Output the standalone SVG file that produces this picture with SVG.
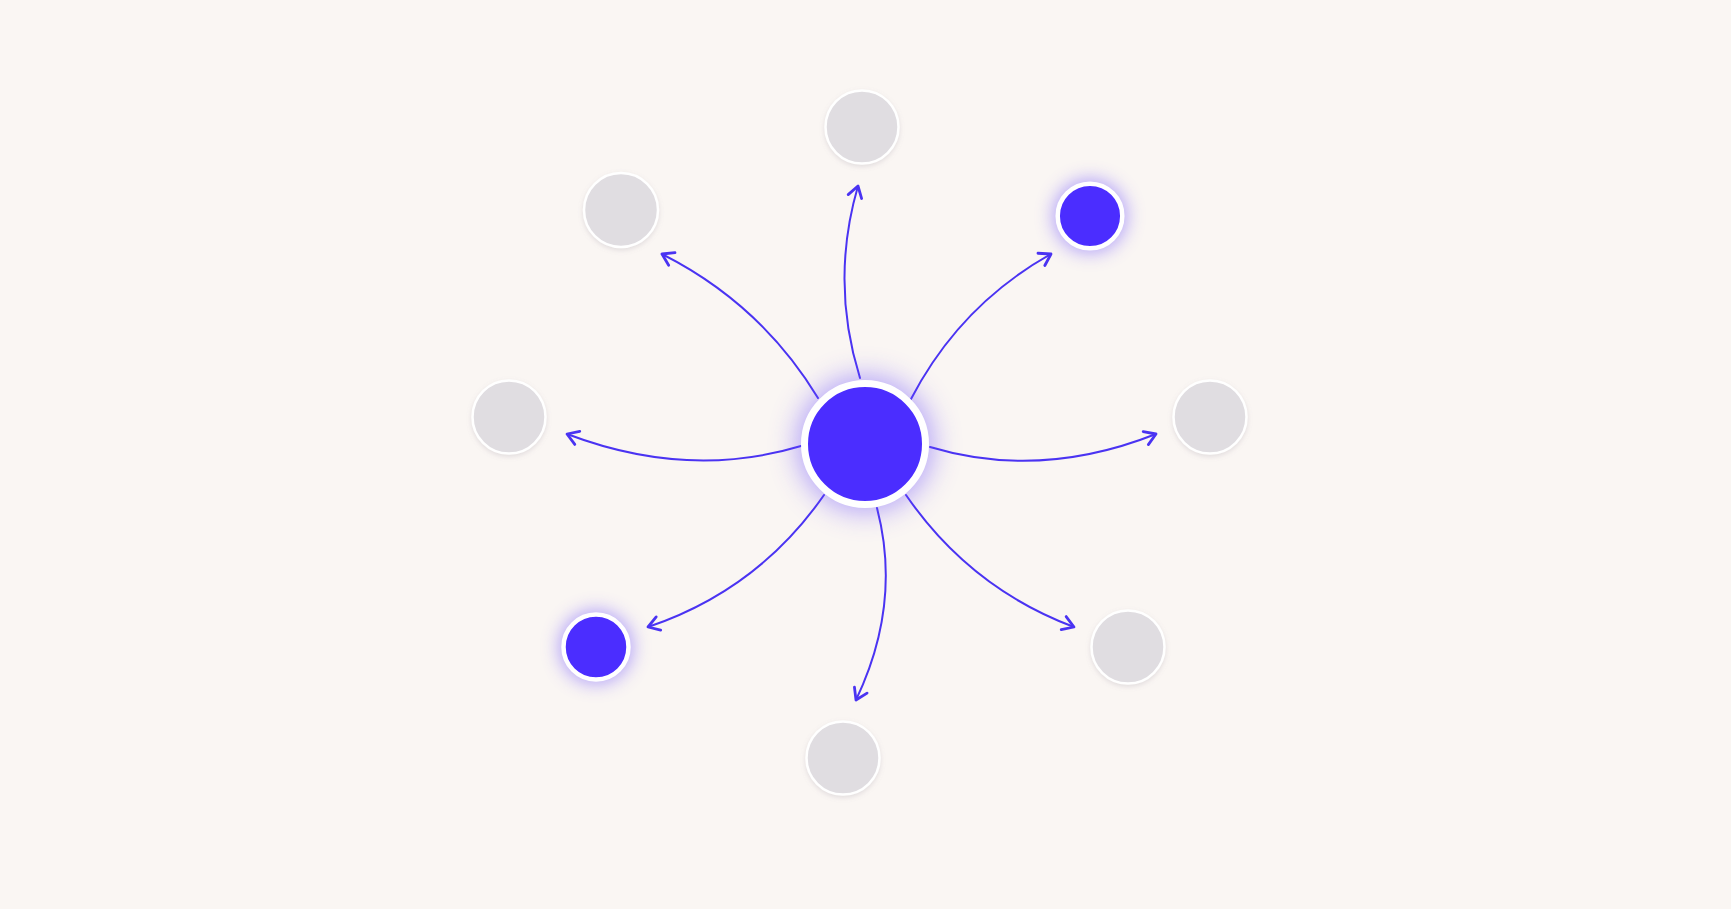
<svg xmlns="http://www.w3.org/2000/svg" width="1731" height="909" viewBox="0 0 1731 909">
<defs>
<style>
.conn{fill:none;stroke:#4a33f2;stroke-width:2;stroke-linecap:round}
.gray{fill:#e0dde1;stroke:#ffffff;stroke-width:2.5}
.blue{fill:#4b2dff;stroke:#ffffff}
.glow{fill:#6a4dff;opacity:0.5}
</style>
<filter id="blurBig" x="-60%" y="-60%" width="220%" height="220%"><feGaussianBlur stdDeviation="14"/></filter>
<filter id="blurSmall" x="-60%" y="-60%" width="220%" height="220%"><feGaussianBlur stdDeviation="9"/></filter>
<filter id="shadow" x="-30%" y="-30%" width="160%" height="160%"><feDropShadow dx="0" dy="2" stdDeviation="2.5" flood-color="#8a8090" flood-opacity="0.22"/></filter>
<marker id="arr" viewBox="-14 -9 16 18" refX="0" refY="0" markerWidth="16" markerHeight="18" markerUnits="userSpaceOnUse" orient="auto">
<path d="M-11,-7 L0,0 L-11,7" fill="none" stroke="#4a33f2" stroke-width="2.8" stroke-linecap="round" stroke-linejoin="round"/>
</marker>
</defs>
<rect width="1731" height="909" fill="#faf6f3"/>
<g id="connectors">
<path class="conn" marker-end="url(#arr)" d="M860,378 Q830,282 858,186"/>
<path class="conn" marker-end="url(#arr)" d="M911,399 Q960,305 1051,254"/>
<path class="conn" marker-end="url(#arr)" d="M930,447 Q1040,480 1156,434"/>
<path class="conn" marker-end="url(#arr)" d="M906,495 Q970,588 1074,627"/>
<path class="conn" marker-end="url(#arr)" d="M877,508 Q902,604 856,700"/>
<path class="conn" marker-end="url(#arr)" d="M824,495 Q758,590 648,627"/>
<path class="conn" marker-end="url(#arr)" d="M801,446 Q688,480 567,434"/>
<path class="conn" marker-end="url(#arr)" d="M818,398 Q761,304 662,254"/>
</g>
<g id="node-top" filter="url(#shadow)"><circle class="gray" cx="862" cy="127" r="36.5"/></g>
<g id="node-top-left" filter="url(#shadow)"><circle class="gray" cx="621" cy="210" r="37"/></g>
<g id="node-left" filter="url(#shadow)"><circle class="gray" cx="509" cy="417" r="36.5"/></g>
<g id="node-right" filter="url(#shadow)"><circle class="gray" cx="1210" cy="417" r="36.5"/></g>
<g id="node-bottom-right" filter="url(#shadow)"><circle class="gray" cx="1128" cy="647" r="36.5"/></g>
<g id="node-bottom" filter="url(#shadow)"><circle class="gray" cx="843" cy="758" r="36.5"/></g>
<g id="node-top-right">
<circle class="glow" cx="1090" cy="216" r="37" filter="url(#blurSmall)"/>
<circle class="blue" cx="1090" cy="216" r="32.3" stroke-width="4.5"/>
</g>
<g id="node-bottom-left">
<circle class="glow" cx="596" cy="647" r="37" filter="url(#blurSmall)"/>
<circle class="blue" cx="596" cy="647" r="32.5" stroke-width="4.5"/>
</g>
<g id="node-center">
<circle class="glow" cx="865" cy="444" r="68" filter="url(#blurBig)"/>
<circle class="blue" cx="865" cy="444" r="60.5" stroke-width="7"/>
</g>
</svg>
